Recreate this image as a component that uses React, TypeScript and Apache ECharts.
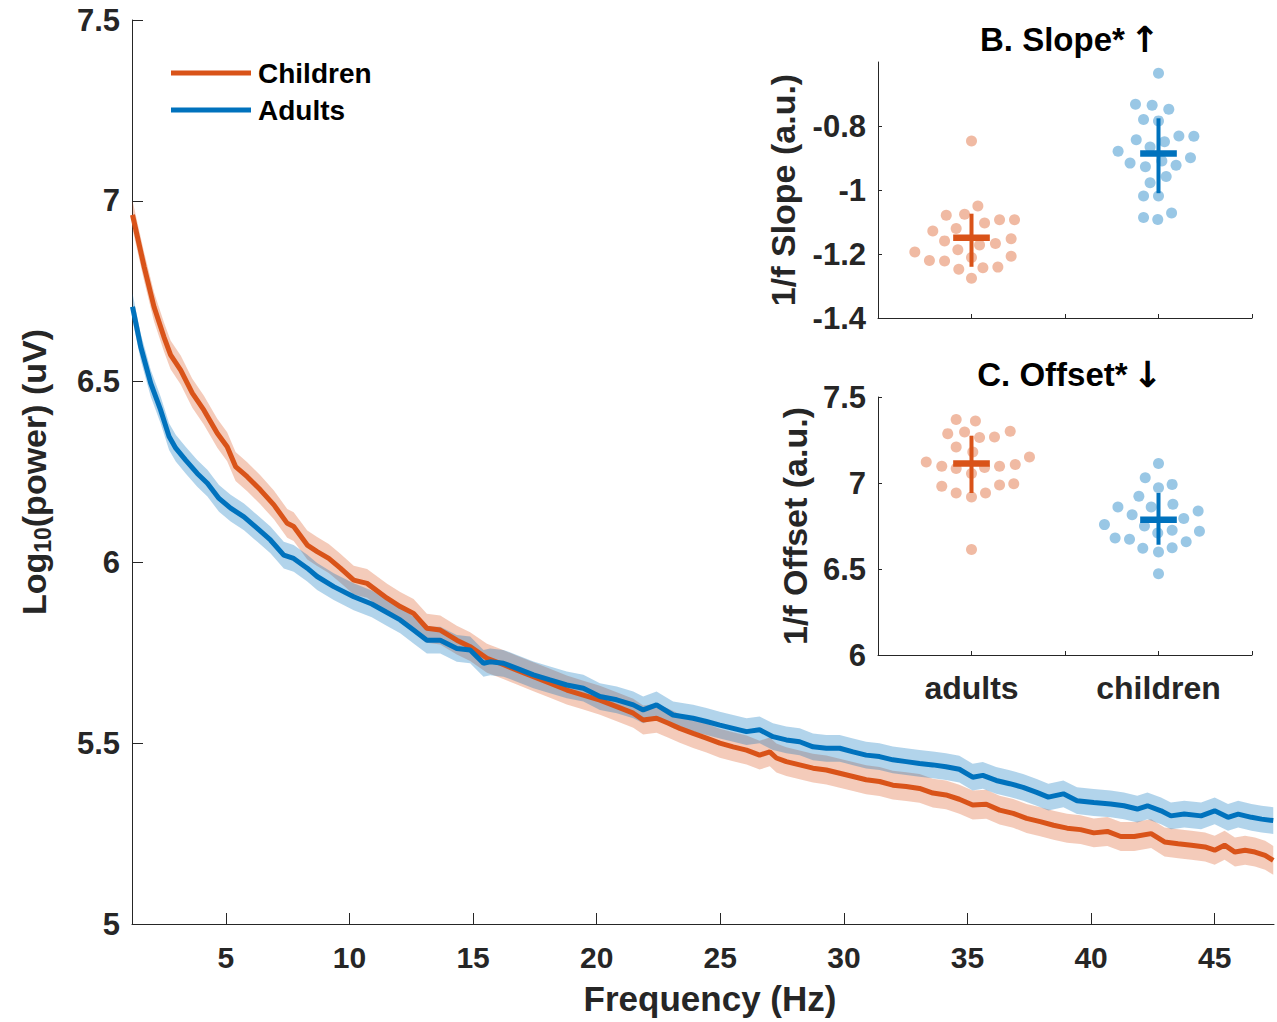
import React, { useEffect, useRef } from "react";
import * as echarts from "echarts";

const FONT = '"Liberation Sans", Arial, Helvetica, sans-serif';
const TXT = "#262626";
const ORANGE = "#D95319";
const BLUE = "#0072BD";

// ---- Main spectrum data (frequency in Hz, log10 power) ----
const childFreq = [1.22, 1.69, 2.09, 2.49, 2.76, 3.17, 3.64, 4.11, 4.65, 5.05, 5.39, 5.86, 6.4, 6.94, 7.48, 7.74, 8.29, 8.69, 9.16, 9.63, 10.17, 10.71, 11.52, 12.05, 12.59, 13.13, 13.67, 14.34, 14.88, 15.56, 16.09, 16.77, 17.44, 18.11, 18.79, 19.46, 20.13, 20.81, 21.48, 21.88, 22.42, 22.9, 23.36, 23.9, 24.44, 24.98, 25.52, 26.06, 26.59, 27.0, 27.27, 27.67, 28.21, 28.75, 29.29, 29.83, 30.37, 30.9, 31.44, 31.98, 32.52, 33.06, 33.6, 34.13, 34.67, 35.21, 35.76, 36.3, 36.85, 37.39, 37.94, 38.48, 39.03, 39.57, 40.11, 40.66, 41.2, 41.75, 42.43, 42.97, 43.52, 44.06, 44.61, 45.0, 45.4, 45.82, 46.23, 46.63, 47.04, 47.37];
const childPow = [6.961, 6.818, 6.707, 6.624, 6.574, 6.532, 6.468, 6.421, 6.357, 6.32, 6.265, 6.237, 6.2, 6.159, 6.108, 6.099, 6.048, 6.03, 6.011, 5.984, 5.951, 5.942, 5.901, 5.878, 5.859, 5.818, 5.813, 5.785, 5.767, 5.735, 5.721, 5.702, 5.684, 5.666, 5.647, 5.633, 5.619, 5.601, 5.583, 5.564, 5.569, 5.555, 5.541, 5.527, 5.514, 5.5, 5.49, 5.481, 5.467, 5.476, 5.459, 5.449, 5.44, 5.431, 5.426, 5.417, 5.408, 5.399, 5.394, 5.384, 5.38, 5.375, 5.362, 5.357, 5.345, 5.329, 5.331, 5.315, 5.306, 5.292, 5.283, 5.273, 5.265, 5.261, 5.252, 5.256, 5.242, 5.242, 5.25, 5.227, 5.222, 5.218, 5.213, 5.204, 5.218, 5.199, 5.204, 5.199, 5.19, 5.176];
const adultFreq = [1.22, 1.55, 1.96, 2.36, 2.7, 2.97, 3.37, 3.84, 4.25, 4.72, 5.19, 5.73, 6.27, 6.8, 7.34, 7.74, 8.29, 8.69, 9.36, 10.17, 10.9, 11.5, 12.05, 12.59, 13.13, 13.67, 14.34, 14.88, 15.42, 15.69, 16.23, 16.77, 17.44, 18.11, 18.79, 19.46, 20.13, 20.81, 21.48, 21.88, 22.42, 23.09, 23.9, 24.44, 24.98, 25.52, 26.06, 26.59, 27.13, 27.67, 28.21, 28.75, 29.29, 29.83, 30.37, 30.9, 31.44, 31.98, 32.52, 33.06, 33.6, 34.13, 34.67, 35.21, 35.62, 36.16, 36.71, 37.25, 37.8, 38.27, 38.88, 39.43, 40.11, 40.79, 41.33, 41.87, 42.28, 42.83, 43.23, 43.77, 44.45, 45.0, 45.54, 45.95, 46.49, 46.9, 47.37];
const adultPow = [6.707, 6.597, 6.495, 6.421, 6.348, 6.316, 6.283, 6.246, 6.219, 6.177, 6.15, 6.126, 6.094, 6.062, 6.02, 6.011, 5.984, 5.961, 5.933, 5.905, 5.885, 5.862, 5.841, 5.813, 5.785, 5.785, 5.762, 5.758, 5.721, 5.725, 5.721, 5.707, 5.689, 5.675, 5.661, 5.652, 5.629, 5.62, 5.606, 5.592, 5.606, 5.578, 5.569, 5.56, 5.55, 5.541, 5.532, 5.537, 5.518, 5.509, 5.504, 5.49, 5.486, 5.486, 5.476, 5.467, 5.463, 5.454, 5.449, 5.444, 5.44, 5.435, 5.428, 5.406, 5.411, 5.397, 5.388, 5.378, 5.364, 5.351, 5.36, 5.341, 5.336, 5.332, 5.327, 5.318, 5.327, 5.313, 5.299, 5.304, 5.299, 5.313, 5.295, 5.304, 5.295, 5.29, 5.286];
const CHILD_CI = 0.04;
const ADULT_CI = 0.037;

const freqTicks = [5, 10, 15, 20, 25, 30, 35, 40, 45];

// ---- Inset B: 1/f slope ----
const groupLabels = ["adults", "children"];
const slopeAdultDx = [0, 0.034, -0.135, -0.037, 0.15, 0.23, 0.07, -0.207, -0.082, -0.144, 0.043, 0.128, 0.212, -0.073, -0.303, 0, -0.225, -0.144, 0.212, -0.068, 0.061, 0.141, 0];
const slopeAdultVal = [-0.847, -1.05, -1.079, -1.076, -1.093, -1.093, -1.103, -1.128, -1.12, -1.159, -1.172, -1.167, -1.152, -1.187, -1.194, -1.211, -1.22, -1.222, -1.207, -1.248, -1.243, -1.241, -1.276];
const slopeChildDx = [0, -0.123, -0.034, 0.055, -0.08, 0, -0.119, 0.032, 0.109, 0.189, -0.216, -0.045, 0.171, -0.152, -0.07, 0.018, 0.094, 0.041, -0.045, -0.08, 0, -0.08, -0.004, 0.07];
const slopeChildVal = [-0.635, -0.732, -0.735, -0.748, -0.78, -0.784, -0.843, -0.849, -0.831, -0.832, -0.879, -0.866, -0.899, -0.916, -0.927, -0.909, -0.923, -0.958, -0.977, -1.019, -1.019, -1.086, -1.092, -1.072];
const slopeMean = [-1.149, -0.886];
const slopeLow = [-1.24, -1.01];
const slopeHigh = [-1.074, -0.776];

// ---- Inset C: 1/f offset ----
const offAdultDx = [-0.082, 0.021, -0.127, -0.037, 0.043, 0.123, 0.207, -0.082, 0.007, -0.242, -0.159, -0.082, 0.07, 0.15, 0.234, 0.31, 0, -0.159, 0.15, 0.226, -0.082, 0.075, 0, 0];
const offAdultVal = [7.369, 7.361, 7.287, 7.297, 7.264, 7.268, 7.301, 7.209, 7.18, 7.122, 7.097, 7.084, 7.09, 7.097, 7.107, 7.151, 7.055, 6.981, 6.988, 6.996, 6.942, 6.942, 6.919, 6.614];
const offChildDx = [0, -0.071, 0.073, 0, -0.105, -0.217, -0.039, 0.077, -0.141, 0.212, 0.135, -0.289, -0.075, 0.073, 0.219, -0.004, -0.232, -0.155, 0.148, -0.084, 0.073, 0, 0];
const offChildVal = [7.113, 7.031, 6.992, 6.973, 6.923, 6.86, 6.86, 6.876, 6.816, 6.837, 6.793, 6.758, 6.75, 6.725, 6.719, 6.709, 6.68, 6.673, 6.659, 6.62, 6.624, 6.599, 6.473];
const offMean = [7.113, 6.787];
const offLow = [6.942, 6.641];
const offHigh = [7.275, 6.942];

const CROSS_HALF = 0.098;

function crossRender(color: string) {
  return (params: any, api: any) => {
    const x = api.value(0);
    const m = api.value(1);
    const lo = api.value(2);
    const hi = api.value(3);
    const l = api.coord([x - CROSS_HALF, m]);
    const r = api.coord([x + CROSS_HALF, m]);
    const t = api.coord([x, hi]);
    const b = api.coord([x, lo]);
    return {
      type: "group",
      children: [
        { type: "line", shape: { x1: t[0], y1: t[1], x2: b[0], y2: b[1] }, style: { stroke: color, lineWidth: 4 } },
        { type: "line", shape: { x1: l[0], y1: l[1], x2: r[0], y2: r[1] }, style: { stroke: color, lineWidth: 6.5 } },
      ],
    };
  };
}

function bandRender(freq: number[], pow: number[], ci: number, color: string) {
  return (params: any, api: any) => {
    if (params.dataIndex !== 0) return null;
    const upper = freq.map((f, i) => api.coord([f, pow[i] + ci]));
    const lower = freq.map((f, i) => api.coord([f, pow[i] - ci])).reverse();
    return { type: "polygon", shape: { points: upper.concat(lower) }, style: { fill: color, stroke: "none" } };
  };
}

export default function App() {
  const ref = useRef<HTMLDivElement>(null);
  useEffect(() => {
    if (!ref.current) return;
    const chart = echarts.init(ref.current, null, { renderer: "svg" });

    const axisLine = { show: true, onZero: false, lineStyle: { color: TXT, width: 1 } };
    const lbl = (size: number) => ({ color: TXT, fontSize: size, fontWeight: "bold" as const, fontFamily: FONT });

    const band = (freq: number[], pow: number[], ci: number, color: string) => ({
      type: "custom", xAxisIndex: 0, yAxisIndex: 0, silent: true,
      renderItem: bandRender(freq, pow, ci, color),
      data: freq.map((f, i) => [f, pow[i] - ci, pow[i] + ci]),
      encode: { x: 0, y: [1, 2] },
    });

    const scatter = (dx: number[], vals: number[], group: number, axis: number, color: string) => ({
      type: "scatter", xAxisIndex: axis, yAxisIndex: axis, symbol: "circle", symbolSize: 11,
      itemStyle: { color }, silent: true,
      data: vals.map((v, i) => [group + 1 + dx[i], v]),
    });

    const cross = (mean: number[], lo: number[], hi: number[], group: number, axis: number, color: string) => ({
      type: "custom", xAxisIndex: axis, yAxisIndex: axis, silent: true, z: 5,
      renderItem: crossRender(color),
      data: [[group + 1, mean[group], lo[group], hi[group]]],
    });

    const titleRich = {
      b: { ...lbl(33), color: "#000" },
      n: { fontSize: 36, fontFamily: '"DejaVu Sans", sans-serif', color: "#000" },
    };

    const option: any = {
      animation: false,
      backgroundColor: "#ffffff",
      textStyle: { fontFamily: FONT },
      title: [
        { text: "{b|B. Slope*} {n|↑}", left: 1065, top: 16, textAlign: "center", textStyle: { rich: titleRich } },
        { text: "{b|C. Offset*} {n|↓}", left: 1065, top: 351, textAlign: "center", textStyle: { rich: titleRich } },
      ],
      legend: {
        data: ["Children", "Adults"], orient: "vertical", left: 166, top: 54, itemWidth: 80, itemHeight: 5,
        icon: "rect", itemGap: 9, textStyle: { ...lbl(28), color: "#000", padding: [0, 0, 0, 2] },
      },
      grid: [
        { left: 132, top: 20, width: 1142, height: 904, outerBoundsMode: "none", containLabel: false },
        { left: 878, top: 62, width: 374, height: 256, outerBoundsMode: "none", containLabel: false },
        { left: 878, top: 397, width: 374, height: 258, outerBoundsMode: "none", containLabel: false },
      ],
      xAxis: [
        {
          type: "value", gridIndex: 0, min: 1.2, max: 47.4,
          name: "Frequency (Hz)", nameLocation: "middle", nameGap: 57,
          nameTextStyle: { ...lbl(35), padding: [0, 0, 0, 14] },
          axisLine, splitLine: { show: false },
          axisTick: { show: true, inside: true, length: 11, customValues: freqTicks, lineStyle: { color: TXT } },
          axisLabel: { ...lbl(30), margin: 18, customValues: freqTicks },
        },
        {
          type: "value", gridIndex: 1, min: 0.5, max: 2.5,
          axisLine, splitLine: { show: false },
          axisTick: { show: true, inside: true, length: 4, customValues: [1, 1.5, 2, 2.5], lineStyle: { color: TXT } },
          axisLabel: { show: false },
        },
        {
          type: "value", gridIndex: 2, min: 0.5, max: 2.5,
          axisLine, splitLine: { show: false },
          axisTick: { show: true, inside: true, length: 4, customValues: [1, 1.5, 2, 2.5], lineStyle: { color: TXT } },
          axisLabel: { ...lbl(32), margin: 17, customValues: [1, 2], formatter: (v: number) => groupLabels[Math.round(v) - 1] },
        },
      ],
      yAxis: [
        {
          type: "value", gridIndex: 0, min: 5, max: 7.5, interval: 0.5,
          name: "{a|Log}{s|10}{a|(power) (uV)}", nameLocation: "middle", nameGap: 78, nameRotate: 90,
          nameTextStyle: {
            rich: {
              a: { ...lbl(34), lineHeight: 40 },
              s: { ...lbl(23), lineHeight: 23, padding: [27, 0, 0, 0], verticalAlign: "bottom" },
            },
          },
          axisLine, splitLine: { show: false },
          axisTick: { show: true, inside: true, length: 11, lineStyle: { color: TXT } },
          axisLabel: { ...lbl(31), margin: 12 },
        },
        {
          type: "value", gridIndex: 1, min: -1.4, max: -0.6,
          name: "1/f Slope (a.u.)", nameLocation: "middle", nameGap: 78, nameRotate: 90,
          nameTextStyle: lbl(34),
          axisLine, splitLine: { show: false },
          axisTick: { show: true, inside: true, length: 4, customValues: [-1.4, -1.2, -1, -0.8], lineStyle: { color: TXT } },
          axisLabel: { ...lbl(31), margin: 12, customValues: [-1.4, -1.2, -1, -0.8], formatter: (v: number) => String(Math.round(v * 10) / 10) },
        },
        {
          type: "value", gridIndex: 2, min: 6, max: 7.5, interval: 0.5,
          name: "1/f Offset (a.u.)", nameLocation: "middle", nameGap: 66, nameRotate: 90,
          nameTextStyle: lbl(34),
          axisLine, splitLine: { show: false },
          axisTick: { show: true, inside: true, length: 4, lineStyle: { color: TXT } },
          axisLabel: { ...lbl(31), margin: 12 },
        },
      ],
      series: [
        band(childFreq, childPow, CHILD_CI, "rgba(217,83,25,0.3)"),
        {
          type: "line", name: "Children", xAxisIndex: 0, yAxisIndex: 0, symbol: "none",
          lineStyle: { color: ORANGE, width: 5 }, itemStyle: { color: ORANGE },
          data: childFreq.map((f, i) => [f, childPow[i]]),
        },
        band(adultFreq, adultPow, ADULT_CI, "rgba(0,114,189,0.3)"),
        {
          type: "line", name: "Adults", xAxisIndex: 0, yAxisIndex: 0, symbol: "none",
          lineStyle: { color: BLUE, width: 5 }, itemStyle: { color: BLUE },
          data: adultFreq.map((f, i) => [f, adultPow[i]]),
        },
        scatter(slopeAdultDx, slopeAdultVal, 0, 1, "rgb(236,169,140)"),
        scatter(slopeChildDx, slopeChildVal, 1, 1, "rgb(128,185,222)"),
        cross(slopeMean, slopeLow, slopeHigh, 0, 1, ORANGE),
        cross(slopeMean, slopeLow, slopeHigh, 1, 1, BLUE),
        scatter(offAdultDx, offAdultVal, 0, 2, "rgb(236,169,140)"),
        scatter(offChildDx, offChildVal, 1, 2, "rgb(128,185,222)"),
        cross(offMean, offLow, offHigh, 0, 2, ORANGE),
        cross(offMean, offLow, offHigh, 1, 2, BLUE),
      ],
    };
    chart.setOption(option);
    return () => chart.dispose();
  }, []);
  return <div ref={ref} style={{ position: "absolute", left: 0, top: 0, width: 1277, height: 1022 }} />;
}
